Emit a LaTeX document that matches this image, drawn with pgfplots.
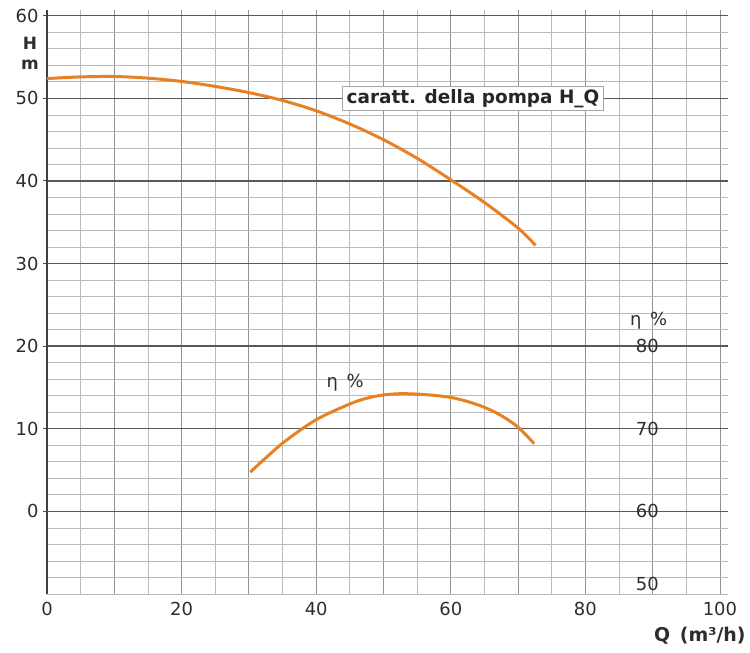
\documentclass[border=0pt]{standalone}
\usepackage{fontspec}
\setmainfont{DejaVu Sans}
\usepackage{pgfplots}
\pgfplotsset{compat=1.18}
\definecolor{curve}{RGB}{232,128,36}
\definecolor{txt}{RGB}{45,45,45}
\begin{document}
\begin{tikzpicture}
\useasboundingbox (0,0) rectangle (750bp,653bp);
\begin{axis}[
  at={(47bp,59bp)}, anchor=south west,
  scale only axis, width=681bp, height=584bp,
  xmin=0, xmax=101.2, ymin=-10, ymax=60.7,
  clip=false,
  axis x line*=bottom, axis y line*=left,
  x axis line style={draw=gray!55, line width=0.8bp, -},
  y axis line style={draw=black!75, line width=1.6bp, -},
  xtick={0,10,...,100}, xticklabels={0,,20,,40,,60,,80,,100},
  minor xtick={5,15,...,95},
  ytick={0,10,...,60},
  minor ytick={-10,-8,...,60},
  grid=both,
  major x grid style={draw=gray!85, line width=0.8bp},
  minor x grid style={draw=gray!55, line width=0.7bp},
  major y grid style={draw=black!65, line width=1.4bp},
  minor y grid style={draw=gray!55, line width=0.8bp},
  extra y ticks={0}, extra y tick labels={},
  extra y tick style={grid style={draw=black!90, line width=1.8bp}, major tick length=0pt},
  tick align=outside, major tick length=4bp, minor tick length=0pt,
  xtick style={draw=none},
  ytick style={draw=black!70, line width=1bp},
  /pgf/number format/assume math mode=true,
  ticklabel style={font=\fontsize{18}{21}\selectfont, text=txt},
  yticklabel style={xshift=-1bp},
  xticklabel style={yshift=-1bp},
]
\addplot[curve, line width=3bp, smooth] coordinates {
 (0,52.4) (5,52.6) (10,52.65) (15,52.45) (20,52.05) (25,51.45) (30,50.7) (35,49.75)
 (40,48.5) (45,46.9) (50,45.0) (55,42.75) (60,40.15) (65,37.4) (70,34.3) (72.6,32.2)
};
\addplot[curve, line width=3bp, smooth] coordinates {
 (30.2,4.75) (35,8.25) (40,11.1) (45,13.0) (47.5,13.7) (50,14.1) (52.5,14.25) (55,14.2)
 (57.5,14.05) (60,13.8) (62.5,13.3) (65,12.6) (67.5,11.6) (70,10.2) (72.4,8.2)
};
\node[draw=gray!70, fill=white, line width=0.8bp, inner xsep=4bp, inner ysep=2.5bp,
      font=\bfseries\fontsize{18.5}{21}\selectfont, text=black!85] at (axis cs:63.3,50) {caratt. della pompa H\_Q};
\node[font=\fontsize{18}{21}\selectfont, text=txt] at (axis cs:44.3,15.6) {η \,\%};
\node[font=\fontsize{18}{21}\selectfont, text=txt] at (axis cs:89.4,23.1) {η \,\%};
\node[font=\fontsize{18}{21}\selectfont, text=txt] at (axis cs:89.2,20) {80};
\node[font=\fontsize{18}{21}\selectfont, text=txt] at (axis cs:89.2,10) {70};
\node[font=\fontsize{18}{21}\selectfont, text=txt] at (axis cs:89.2,0) {60};
\node[font=\fontsize{18}{21}\selectfont, text=txt] at (axis cs:89.2,-8.8) {50};
\node[font=\bfseries\fontsize{17}{20}\selectfont, text=txt] at (rel axis cs:-0.025,0.9435) {H};
\node[font=\bfseries\fontsize{17}{20}\selectfont, text=txt] at (rel axis cs:-0.025,0.906) {m};
\node[anchor=east, font=\bfseries\fontsize{19}{22}\selectfont, text=txt] at (rel axis cs:1.031,-0.072) {Q\, (m³/h)};
\end{axis}
\end{tikzpicture}
\end{document}
